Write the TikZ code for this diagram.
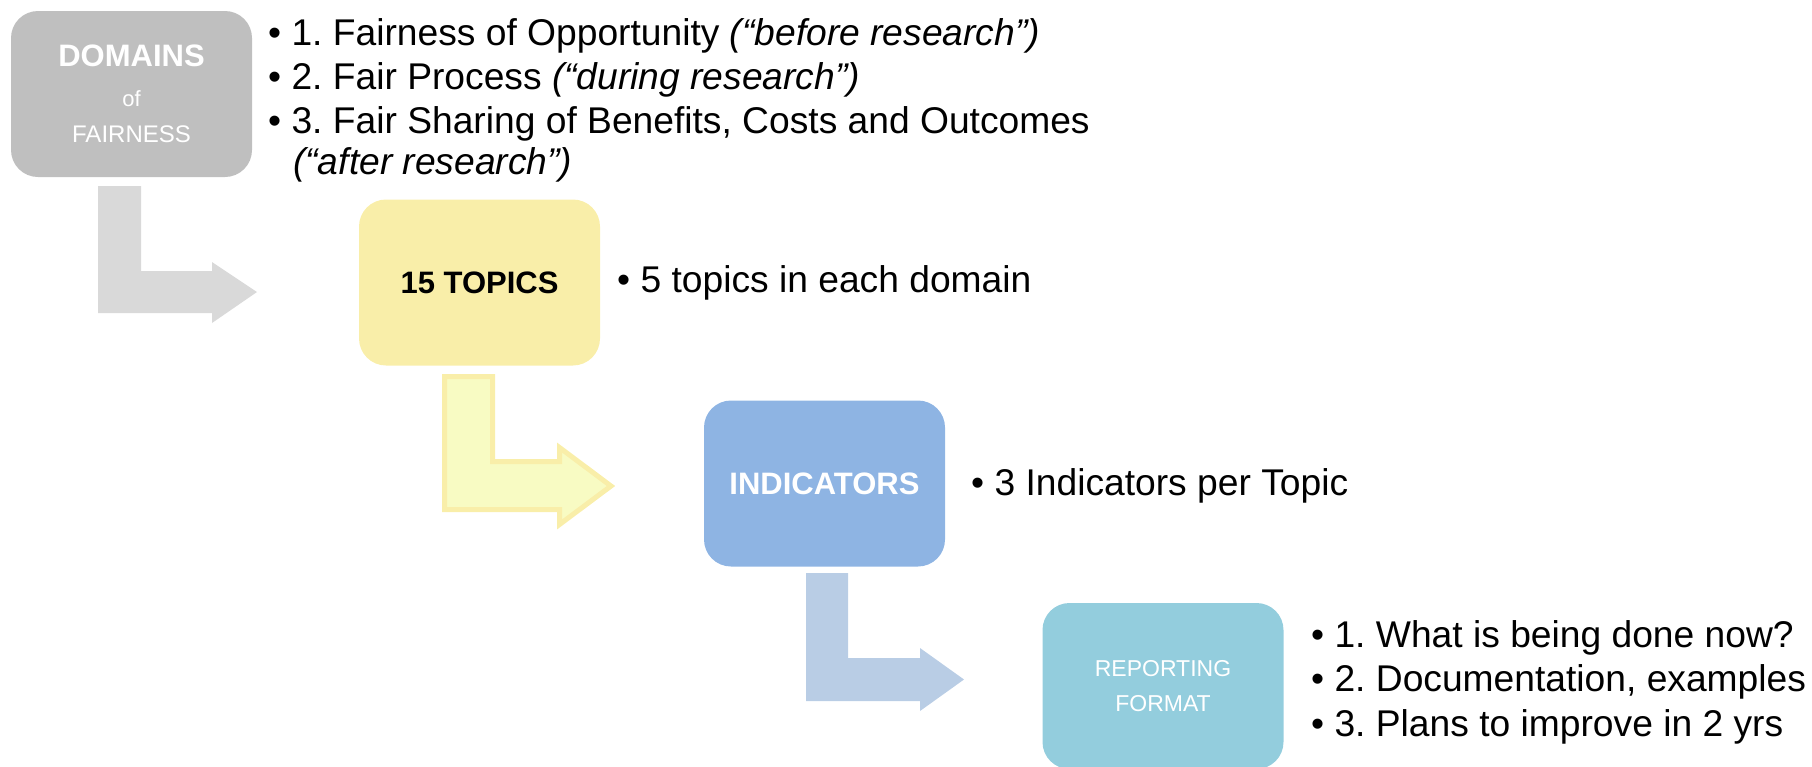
\documentclass[tikz,border=0pt]{standalone}
\usepackage{fontspec}
\setmainfont{Liberation Sans}
\frenchspacing

\definecolor{domgray}{HTML}{BFBFBF}
\definecolor{domarrow}{HTML}{D9D9D9}
\definecolor{topyellow}{HTML}{F9EEA9}
\definecolor{toparrow}{HTML}{F8FBC3}
\definecolor{indblue}{HTML}{8EB4E3}
\definecolor{indarrow}{HTML}{B9CDE5}
\definecolor{repteal}{HTML}{93CDDD}

\tikzset{
  stage/.style={rounded corners=27pt, minimum width=241pt, minimum height=166pt,
    inner sep=0pt, align=center},
  bul/.style={anchor=base west, inner sep=0pt, font=\fontsize{37.2}{44}\selectfont},
}

\begin{document}
\begin{tikzpicture}[x=1pt,y=-1pt]
  \useasboundingbox (0,0) rectangle (1812,766);
  \clip (0,0) rectangle (1812,766);
  % the four stages
  \node[stage,fill=domgray,text=white,font=\fontsize{24}{36}\selectfont] (dom) at (131.5,94)
    {{\fontsize{31}{36}\selectfont\bfseries DOMAINS}\\[4pt]{\fontsize{22}{36}\selectfont of}\\FAIRNESS};
  \node[stage,fill=topyellow,font=\fontsize{31}{36}\selectfont\bfseries] (top) at (479.5,282.5) {15 TOPICS};
  \node[stage,fill=indblue,text=white,font=\fontsize{31}{36}\selectfont\bfseries] (ind) at (824.5,483.5) {INDICATORS};
  \node[stage,fill=repteal,text=white,font=\fontsize{23}{35}\selectfont] (rep) at (1163,686) {REPORTING\\FORMAT};
  % bent arrows
  \fill[domarrow] (98,186) -- (141,186) -- (141,271) -- (212,271) -- (212,262) -- (257,292)
    -- (212,323) -- (212,313) -- (98,313) -- cycle;
  \draw[line width=5pt,draw=topyellow,fill=toparrow] (444.5,376.5) -- (492.5,376.5) -- (492.5,461.5)
    -- (559.5,461.5) -- (559.5,447.5) -- (611,486) -- (559.5,524.5) -- (559.5,509.5)
    -- (444.5,509.5) -- cycle;
  \fill[indarrow] (806,573) -- (848,573) -- (848,658) -- (920,658) -- (920,648) -- (964,679.5)
    -- (920,711) -- (920,701) -- (806,701) -- cycle;
  % bullet texts
  \node[bul] (dom1) at (268,45) {\textbullet\ 1. Fairness of Opportunity \textit{(“before research”)}};
  \node[bul] (dom2) at (268,89) {\textbullet\ 2. Fair Process \textit{(“during research”)}};
  \node[bul] (dom3) at (268,133) {\textbullet\ 3. Fair Sharing of Benefits, Costs and Outcomes};
  \node[bul] (dom4) at (293,174) {\textit{(“after research”)}};
  \node[bul] (top1) at (617,292) {\textbullet\ 5 topics in each domain};
  \node[bul] (ind1) at (971,495) {\textbullet\ 3 Indicators per Topic};
  \node[bul] (rep1) at (1311,647) {\textbullet\ 1. What is being done now?};
  \node[bul] (rep2) at (1311,691) {\textbullet\ 2. Documentation, examples};
  \node[bul] (rep3) at (1311,736) {\textbullet\ 3. Plans to improve in 2 yrs};
\end{tikzpicture}
\end{document}
